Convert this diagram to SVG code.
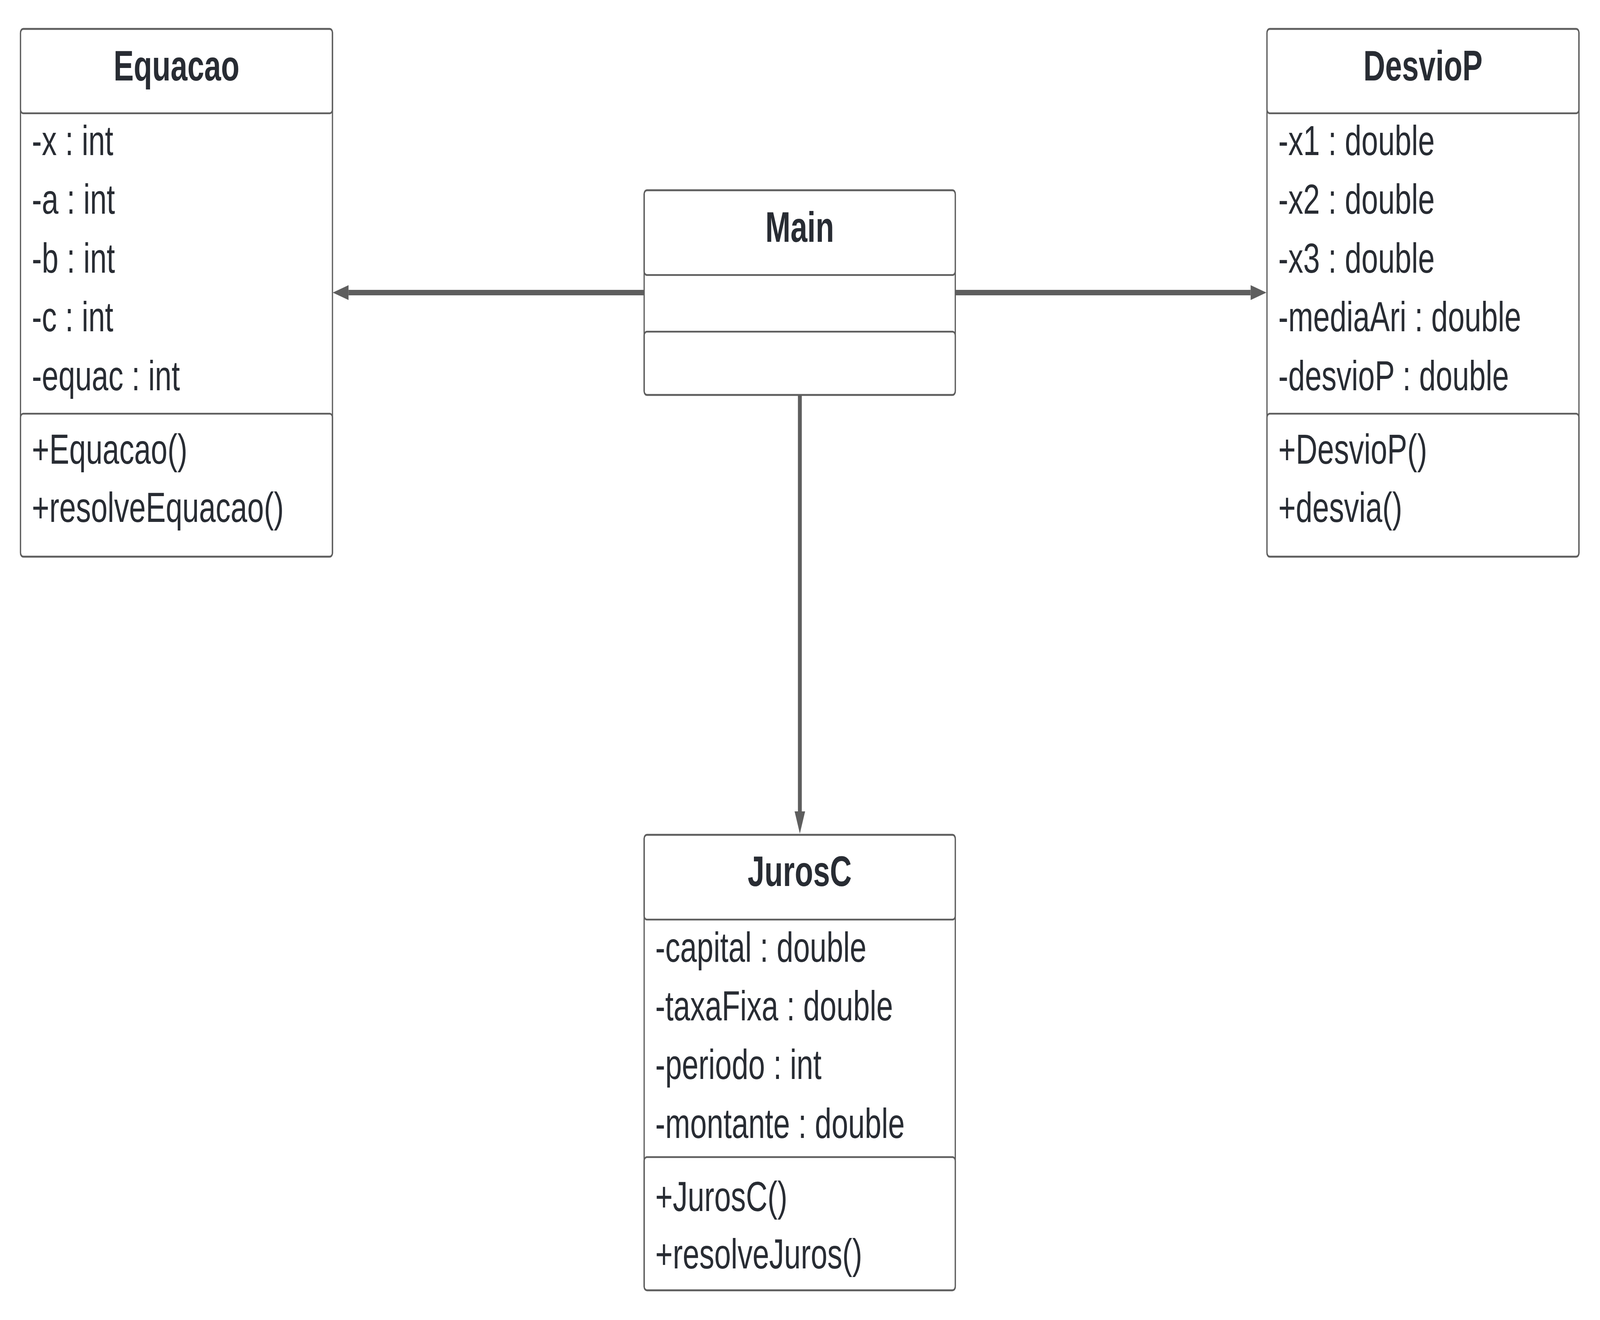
<svg xmlns="http://www.w3.org/2000/svg" width="5775" height="3379" viewBox="0 0 5775 3379" preserveAspectRatio="none">
  <style>
    svg { width: 100vw; height: 100vh; display: block; }
    .box { fill: #ffffff; stroke: #5e5e5e; stroke-width: 4.5; }
    .sec { fill: none; stroke: #5e5e5e; stroke-width: 4.5; }
    .title { font-family: "Liberation Sans", Arial, sans-serif; font-size: 109px; font-weight: bold; fill: #282c33; text-anchor: middle; }
    .item { font-family: "Liberation Sans", Arial, sans-serif; font-size: 108px; fill: #282c33; }
    .conn { fill: none; stroke: #5e5e5e; stroke-width: 14; }
  </style>
  <defs>
    <marker id="arrow" markerUnits="userSpaceOnUse" markerWidth="57" markerHeight="38" refX="0" refY="19" orient="auto" overflow="visible">
      <path d="M0,0 L57,19 L0,38 Z" fill="#5e5e5e"/>
    </marker>
  </defs>
  <rect width="5775" height="3379" fill="#ffffff"/>

  <g id="connectors">
    <path class="conn" d="M2325,749 L1258,749" marker-end="url(#arrow)"/>
    <path class="conn" d="M3448,749 L4514,749" marker-end="url(#arrow)"/>
    <path class="conn" d="M2887,1011 L2887,2077" marker-end="url(#arrow)"/>
  </g>

  <g id="Equacao">
    <rect class="box" x="74" y="74" width="1126" height="1351" rx="10"/>
    <rect class="sec" x="74" y="74" width="1126" height="216" rx="10"/>
    <rect class="sec" x="74" y="1059" width="1126" height="366" rx="10"/>
    <text class="title" x="637" y="206">Equacao</text>
    <text class="item" x="115" y="397">-x : int</text>
    <text class="item" x="115" y="547">-a : int</text>
    <text class="item" x="115" y="698">-b : int</text>
    <text class="item" x="115" y="848">-c : int</text>
    <text class="item" x="115" y="999">-equac : int</text>
    <text class="item" x="115" y="1187">+Equacao()</text>
    <text class="item" x="115" y="1336">+resolveEquacao()</text>
  </g>

  <g id="DesvioP">
    <rect class="box" x="4573" y="74" width="1126" height="1351" rx="10"/>
    <rect class="sec" x="4573" y="74" width="1126" height="216" rx="10"/>
    <rect class="sec" x="4573" y="1059" width="1126" height="366" rx="10"/>
    <text class="title" x="5136" y="206">DesvioP</text>
    <text class="item" x="4614" y="397">-x1 : double</text>
    <text class="item" x="4614" y="547">-x2 : double</text>
    <text class="item" x="4614" y="698">-x3 : double</text>
    <text class="item" x="4614" y="848">-mediaAri : double</text>
    <text class="item" x="4614" y="999">-desvioP : double</text>
    <text class="item" x="4614" y="1187">+DesvioP()</text>
    <text class="item" x="4614" y="1336">+desvia()</text>
  </g>

  <g id="Main">
    <rect class="box" x="2325" y="487" width="1123" height="524" rx="10"/>
    <rect class="sec" x="2325" y="487" width="1123" height="217" rx="10"/>
    <rect class="sec" x="2325" y="849" width="1123" height="162" rx="10"/>
    <text class="title" x="2886.5" y="619.5">Main</text>
  </g>

  <g id="JurosC">
    <rect class="box" x="2325" y="2137" width="1123" height="1166" rx="10"/>
    <rect class="sec" x="2325" y="2137" width="1123" height="217" rx="10"/>
    <rect class="sec" x="2325" y="2962" width="1123" height="341" rx="10"/>
    <text class="title" x="2886.5" y="2268">JurosC</text>
    <text class="item" x="2365" y="2462">-capital : double</text>
    <text class="item" x="2365" y="2612">-taxaFixa : double</text>
    <text class="item" x="2365" y="2762">-periodo : int</text>
    <text class="item" x="2365" y="2913">-montante : double</text>
    <text class="item" x="2365" y="3100">+JurosC()</text>
    <text class="item" x="2365" y="3247">+resolveJuros()</text>
  </g>
</svg>
